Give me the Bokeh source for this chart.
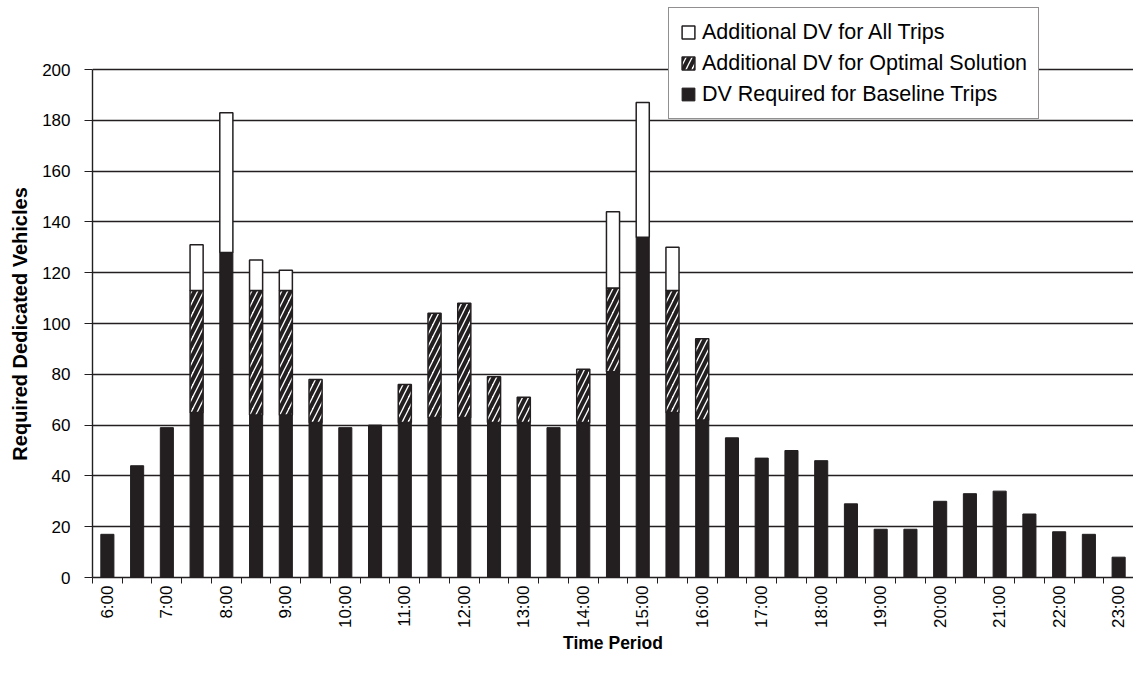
import numpy as np
from bokeh.plotting import figure
from bokeh.models import (Range1d, FixedTicker, Legend, LegendItem,
                          ColumnDataSource, Title)
from bokeh.embed import file_html
from bokeh.resources import INLINE

# Half-hour time periods from 6:00 to 23:00
periods = ["6:00", "6:30", "7:00", "7:30", "8:00", "8:30", "9:00", "9:30",
           "10:00", "10:30", "11:00", "11:30", "12:00", "12:30", "13:00", "13:30",
           "14:00", "14:30", "15:00", "15:30", "16:00", "16:30", "17:00", "17:30",
           "18:00", "18:30", "19:00", "19:30", "20:00", "20:30", "21:00", "21:30",
           "22:00", "22:30", "23:00"]

# Dedicated vehicles required for the baseline trips
baseline = [17, 44, 59, 65, 128, 64, 64, 61, 59, 60, 61, 63, 63, 61, 61, 59,
            61, 81, 134, 65, 62, 55, 47, 50, 46, 29, 19, 19, 30, 33, 34, 25,
            18, 17, 8]

# Additional vehicles needed for the optimal solution
extra_optimal = [0, 0, 0, 48, 0, 49, 49, 17, 0, 0, 15, 41, 45, 18, 10, 0,
                 21, 33, 0, 48, 32, 0, 0, 0, 0, 0, 0, 0, 0, 0, 0, 0,
                 0, 0, 0]

# Additional vehicles needed to serve all trips
extra_all = [0, 0, 0, 18, 55, 12, 8, 0, 0, 0, 0, 0, 0, 0, 0, 0,
             0, 30, 53, 17, 0, 0, 0, 0, 0, 0, 0, 0, 0, 0, 0, 0,
             0, 0, 0]

series_names = ["Additional DV for All Trips",
                "Additional DV for Optimal Solution",
                "DV Required for Baseline Trips"]

y_ticks = list(range(0, 201, 20))
Y_MAX = 200

FONT = "Liberation Sans"
INK = "#231f20"
BAR_W = 0.44

W, H = 1133, 678
BOTTOM = 101     # space under the plot area for the time axis
TOP_GRID = 69    # pixel row of the top gridline

x = np.arange(len(periods))
base_top = np.array(baseline, dtype=float)
opt_top = base_top + np.array(extra_optimal, dtype=float)
all_top = opt_top + np.array(extra_all, dtype=float)


def segments(bottom, top):
    keep = top > bottom
    return ColumnDataSource(dict(x=x[keep], bottom=bottom[keep], top=top[keep]))


# The plot area runs to the top edge so the legend can sit above the 200 line
frame_h = H - BOTTOM
y_end = Y_MAX * frame_h / (frame_h - TOP_GRID)

p = figure(width=W, height=H,
           x_range=Range1d(-0.5, len(periods) - 0.5),
           y_range=Range1d(0, y_end),
           output_backend="svg", toolbar_location=None,
           min_border_left=92, min_border_right=0,
           min_border_top=0, min_border_bottom=BOTTOM)
p.outline_line_color = None
p.background_fill_color = "white"
p.border_fill_color = "white"

# Stacked bars
r_base = p.vbar(x="x", bottom="bottom", top="top", width=BAR_W,
                source=segments(np.zeros_like(base_top), base_top),
                fill_color=INK, line_color=INK, line_width=1)
r_opt = p.vbar(x="x", bottom="bottom", top="top", width=BAR_W,
               source=segments(base_top, opt_top),
               fill_color="white", line_color=INK, line_width=1.5,
               hatch_pattern="/", hatch_color=INK, hatch_weight=4,
               hatch_scale=12)
r_all = p.vbar(x="x", bottom="bottom", top="top", width=BAR_W,
               source=segments(opt_top, all_top),
               fill_color="white", line_color=INK, line_width=1.5)

# Grid
p.xgrid.grid_line_color = None
p.ygrid.grid_line_color = INK
p.ygrid.grid_line_width = 1.4

# Y axis
p.yaxis.ticker = FixedTicker(ticks=y_ticks)
p.yaxis.bounds = (0, Y_MAX)
p.yaxis.major_label_text_font = FONT
p.yaxis.major_label_text_font_size = "17px"
p.yaxis.major_label_text_color = "black"
p.yaxis.major_label_standoff = 14
p.yaxis.major_tick_out = 8
p.yaxis.major_tick_in = 0
p.yaxis.minor_tick_line_color = None
p.yaxis.axis_line_color = INK
p.yaxis.axis_line_width = 1.4
p.yaxis.major_tick_line_color = INK

# Y axis title, centred on the 0-200 span of the axis
y_title_size = 20
y_title = "Required Dedicated Vehicles"
title_len = 0.6864 * y_title_size * len(y_title) * 0.74
y_mid_px = frame_h - (frame_h - TOP_GRID) / 2
p.add_layout(Title(text=y_title, align="left", vertical_align="top",
                   offset=frame_h - y_mid_px - title_len / 2, standoff=14,
                   text_font=FONT, text_font_style="bold",
                   text_font_size=f"{y_title_size}px", text_color="black"),
             "left")

# X axis: labels on the hour, ticks between periods
hour_idx = [i for i, t in enumerate(periods) if t.endswith(":00")]
p.xaxis.ticker = FixedTicker(ticks=hour_idx,
                             minor_ticks=[i - 0.5 for i in range(len(periods) + 1)])
p.xaxis.major_label_overrides = {i: periods[i] for i in hour_idx}
p.xaxis.major_label_orientation = np.pi / 2
p.xaxis.major_label_text_font = FONT
p.xaxis.major_label_text_font_size = "17px"
p.xaxis.major_label_text_color = "black"
p.xaxis.major_label_standoff = 2
p.xaxis.major_tick_out = 6
p.xaxis.major_tick_in = 0
p.xaxis.major_tick_line_color = None
p.xaxis.minor_tick_out = 6
p.xaxis.minor_tick_in = 0
p.xaxis.minor_tick_line_color = INK
p.xaxis.axis_line_color = INK
p.xaxis.axis_line_width = 1.4
p.xaxis.axis_label = "Time Period"
p.xaxis.axis_label_text_font = FONT
p.xaxis.axis_label_text_font_style = "bold"
p.xaxis.axis_label_text_font_size = "17.5px"
p.xaxis.axis_label_text_color = "black"
p.xaxis.axis_label_standoff = 2

# Legend, anchored by its lower-left corner in plot-area pixels
legend = Legend(items=[LegendItem(label=series_names[0], renderers=[r_all]),
                       LegendItem(label=series_names[1], renderers=[r_opt]),
                       LegendItem(label=series_names[2], renderers=[r_base])],
                location=(576, frame_h - 119))
legend.label_text_font = FONT
legend.label_text_font_size = "21.5px"
legend.label_text_color = "black"
legend.label_height = 26
legend.glyph_height = 16
legend.glyph_width = 16
legend.label_standoff = 6
legend.spacing = 5
legend.padding = 11
legend.margin = 0
legend.border_line_color = INK
legend.border_line_width = 1
legend.background_fill_color = "white"
legend.background_fill_alpha = 1
p.add_layout(legend)

open("out.html", "w").write(file_html(p, INLINE))
